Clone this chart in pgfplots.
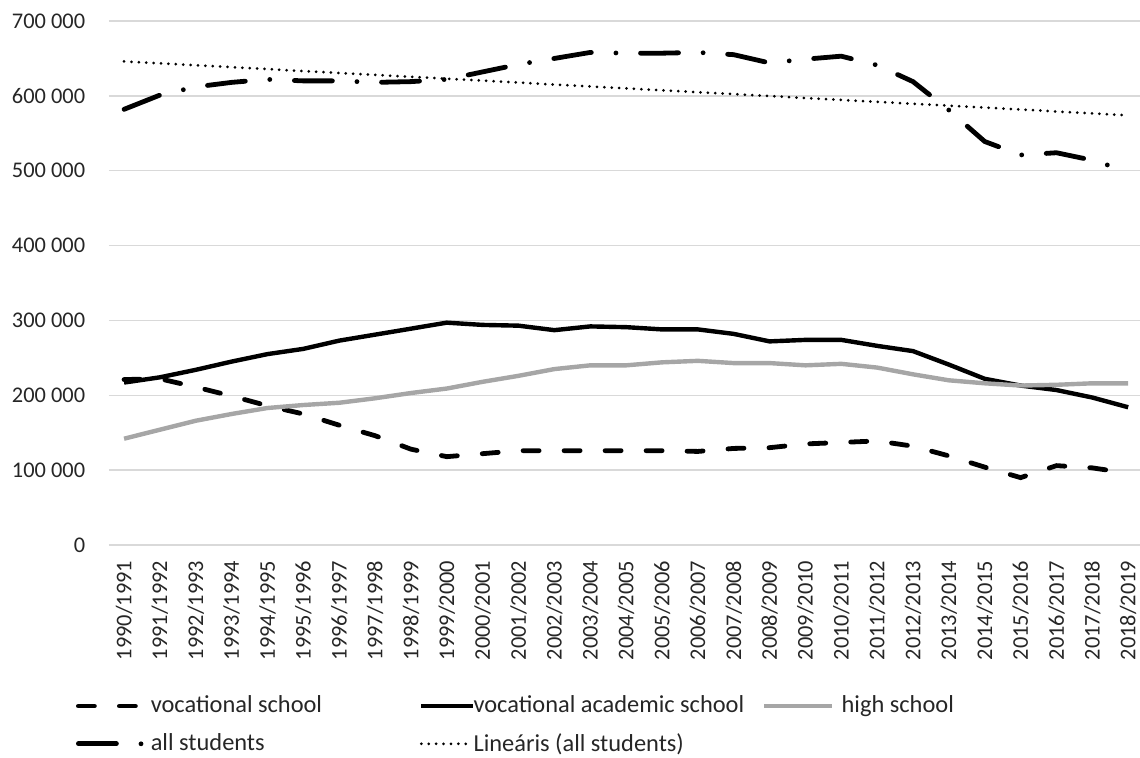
\documentclass[border=0pt]{standalone}
\usepackage{fontspec}
\setmainfont{Carlito}
\usepackage{pgfplots}
\pgfplotsset{compat=1.18}
\definecolor{gridgray}{HTML}{D9D9D9}
\definecolor{hsgray}{HTML}{A6A6A6}
\definecolor{txt}{HTML}{262626}
\pgfplotsset{
  licA/.style={legend image code/.code={\draw[##1] (0pt,0pt) -- (31pt,0pt);}},
  licB/.style={legend image code/.code={\draw[##1] (0pt,0pt) -- (26pt,0pt);}},
  licC/.style={legend image code/.code={\draw[##1] (0pt,0pt) -- (34pt,0pt);}},
  licD/.style={legend image code/.code={\draw[##1] (0pt,0pt) -- (32pt,0pt);}},
  licE/.style={legend image code/.code={\draw[##1] (0pt,0pt) -- (25pt,0pt);}},
}
\begin{document}
\fontsize{11.2}{13.4}\selectfont
\begin{tikzpicture}
\begin{axis}[
  at={(0pt,0pt)}, anchor=south west,
  scale only axis, width=515.5pt, height=262pt,
  xmin=-0.42, xmax=28.33, ymin=0, ymax=700000,
  axis line style={draw=none}, major tick length=0pt,
  ymajorgrids, major grid style={color=gridgray, line width=0.75pt},
  ytick={0,100000,200000,300000,400000,500000,600000,700000},
  yticklabels={0,100 000,200 000,300 000,400 000,500 000,600 000,700 000},
  scaled y ticks=false,
  yticklabel shift=8pt,
  xtick={0,...,28},
  xticklabels={1990/1991,1991/1992,1992/1993,1993/1994,1994/1995,1995/1996,1996/1997,1997/1998,1998/1999,1999/2000,2000/2001,2001/2002,2002/2003,2003/2004,2004/2005,2005/2006,2006/2007,2007/2008,2008/2009,2009/2010,2010/2011,2011/2012,2012/2013,2013/2014,2014/2015,2015/2016,2016/2017,2017/2018,2018/2019},
  xticklabel style={rotate=90, anchor=east},
  xticklabel shift=4pt,
  tick label style={font=\fontsize{11.2}{13.4}\selectfont, text=txt},
  legend columns=3,
  legend cell align=left,
  legend style={draw=none, fill=none, inner sep=0pt, outer sep=0pt,
    at={(-0.032,-0.288)}, anchor=north west, row sep=8.5pt,
    font=\fontsize{12.2}{14.6}\selectfont, text=txt,
    nodes={inner sep=0pt},
    /tikz/column 1/.style={column sep=3pt},
    /tikz/column 2/.style={column sep=48.5pt},
    /tikz/column 3/.style={column sep=-1pt},
    /tikz/column 4/.style={column sep=9pt},
    /tikz/column 5/.style={column sep=3.5pt}},
]
\addplot[black, line width=2.4pt, line cap=round, dash pattern=on 8pt off 12.5pt, licA] coordinates {
(0,221000)(1,222000)(2,211000)(3,199000)(4,186000)(5,175000)(6,160000)(7,146000)(8,128000)(9,118000)
(10,122000)(11,126000)(12,126000)(13,126000)(14,126000)(15,126000)(16,125000)(17,129000)(18,130000)(19,135000)
(20,137000)(21,139000)(22,132000)(23,119000)(24,104000)(25,90000)(26,106000)(27,103000)(28,96000)};
\addlegendentry{vocational school}
\addplot[black, line width=2.2pt, line join=round, licB] coordinates {
(0,217000)(1,224000)(2,234000)(3,245000)(4,255000)(5,262000)(6,273000)(7,281000)(8,289000)(9,297000)
(10,294000)(11,293000)(12,287000)(13,292000)(14,291000)(15,288000)(16,288000)(17,282000)(18,272000)(19,274000)
(20,274000)(21,266000)(22,259000)(23,241000)(24,222000)(25,213000)(26,207000)(27,197000)(28,184000)};
\addlegendentry{vocational academic school}
\addplot[hsgray, line width=2.2pt, line join=round, licC] coordinates {
(0,142000)(1,154000)(2,166000)(3,175000)(4,183000)(5,187000)(6,190000)(7,196000)(8,203000)(9,209000)
(10,218000)(11,226000)(12,235000)(13,240000)(14,240000)(15,244000)(16,246000)(17,243000)(18,243000)(19,240000)
(20,242000)(21,237000)(22,228000)(23,220000)(24,216000)(25,213000)(26,214000)(27,216000)(28,216000)};
\addlegendentry{high school}
\addplot[black, line width=2.4pt, line cap=round, dash pattern=on 19pt off 12.3pt on 0pt off 12.3pt, licD] coordinates {
(0,582000)(1,601000)(2,612000)(3,618000)(4,622000)(5,620000)(6,620000)(7,618000)(8,619000)(9,622000)
(10,632000)(11,642000)(12,650000)(13,658000)(14,657000)(15,657000)(16,658000)(17,655000)(18,644000)(19,649000)
(20,653000)(21,641000)(22,619000)(23,581000)(24,539000)(25,521000)(26,524000)(27,514000)(28,499000)};
\addlegendentry{all students}
\addplot[black, line width=1.5pt, line cap=round, dash pattern=on 0pt off 3.7pt, licE] coordinates {
(0,646000)(28,574000)};
\addlegendentry{Lineáris (all students)}
\end{axis}
\pgfresetboundingbox
\path[use as bounding box] (-54.5pt,-106.5pt) rectangle (515.5pt,272.5pt);
\end{tikzpicture}
\end{document}
